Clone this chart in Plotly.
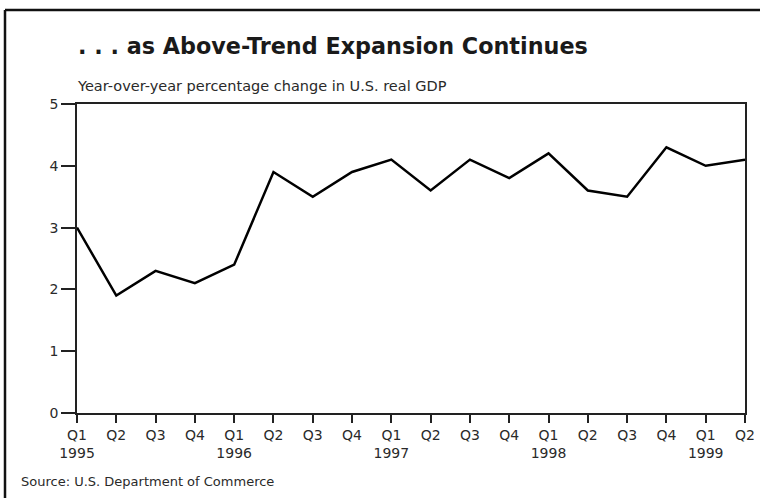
import plotly.graph_objects as go

# Year-over-year % change in U.S. real GDP, quarterly 1995 Q1 - 1999 Q2
quarters = ["Q1", "Q2", "Q3", "Q4", "Q1", "Q2", "Q3", "Q4", "Q1", "Q2",
            "Q3", "Q4", "Q1", "Q2", "Q3", "Q4", "Q1", "Q2"]
years = ["1995", "", "", "", "1996", "", "", "", "1997", "",
         "", "", "1998", "", "", "", "1999", ""]
gdp_change = [3.0, 1.9, 2.3, 2.1, 2.4, 3.9, 3.5, 3.9, 4.1, 3.6,
              4.1, 3.8, 4.2, 3.6, 3.5, 4.3, 4.0, 4.1]

title_text = "<b>. . . as Above-Trend Expansion Continues</b>"
subtitle_text = "Year-over-year percentage change in U.S. real GDP"
source_text = "Source: U.S. Department of Commerce"

W, H = 760, 498
L, R, T, B = 77, 15, 104, 85
plot_w = W - L - R
plot_h = H - T - B

def px_x(p):
    return (p - L) / plot_w

def px_y(p):
    return 1 + (T - p) / plot_h

x_pos = list(range(len(gdp_change)))
tick_text = [q if not y else f"{q}<br>{y}" for q, y in zip(quarters, years)]

FONT = "DejaVu Sans, Liberation Sans, Arial, sans-serif"
TXT = "#2a2a2a"

fig = go.Figure(go.Scatter(
    x=x_pos, y=gdp_change, mode="lines",
    line=dict(color="#000000", width=2.5),
    cliponaxis=False, hoverinfo="skip",
))

frame = dict(color="#111", width=2.5)

fig.update_layout(
    width=W, height=H,
    margin=dict(l=L, r=R, t=T, b=B, autoexpand=False),
    paper_bgcolor="white", plot_bgcolor="white",
    showlegend=False,
    font=dict(family=FONT, size=14, color=TXT),
    xaxis=dict(
        range=[0, len(gdp_change) - 1], automargin=False,
        tickmode="array", tickvals=x_pos, ticktext=tick_text,
        ticks="outside", ticklen=8, tickwidth=1.5, tickcolor="#222",
        showline=True, linecolor="#222", linewidth=1.5, mirror=True,
        showgrid=False, zeroline=False,
        tickfont=dict(family=FONT, size=14, color=TXT),
    ),
    yaxis=dict(
        range=[0, 5], dtick=1, tick0=0, automargin=False,
        ticks="outside", ticklen=14, tickwidth=1.5, tickcolor="#222",
        showline=True, linecolor="#222", linewidth=1.5, mirror=True,
        showgrid=False, zeroline=False,
        tickfont=dict(family=FONT, size=14, color=TXT),
    ),
    shapes=[
        # outer frame: top and left edges of the page box
        dict(type="line", xref="paper", yref="paper",
             x0=px_x(5), x1=px_x(W), y0=px_y(10), y1=px_y(10),
             line=frame, layer="above"),
        dict(type="line", xref="paper", yref="paper",
             x0=px_x(5), x1=px_x(5), y0=px_y(10), y1=px_y(H),
             line=frame, layer="above"),
    ],
    annotations=[
        dict(text=title_text, xref="paper", yref="paper",
             x=px_x(76), y=px_y(45.5), xanchor="left", yanchor="middle",
             showarrow=False, font=dict(family=FONT, size=22.3, color="#1a1a1a")),
        dict(text=subtitle_text, xref="paper", yref="paper",
             x=px_x(75), y=px_y(86.5), xanchor="left", yanchor="middle",
             showarrow=False, font=dict(family=FONT, size=14.5, color=TXT)),
        dict(text=source_text, xref="paper", yref="paper",
             x=px_x(19), y=px_y(481.5), xanchor="left", yanchor="middle",
             showarrow=False, font=dict(family=FONT, size=13, color=TXT)),
    ],
)

fig.write_html("out.html")
